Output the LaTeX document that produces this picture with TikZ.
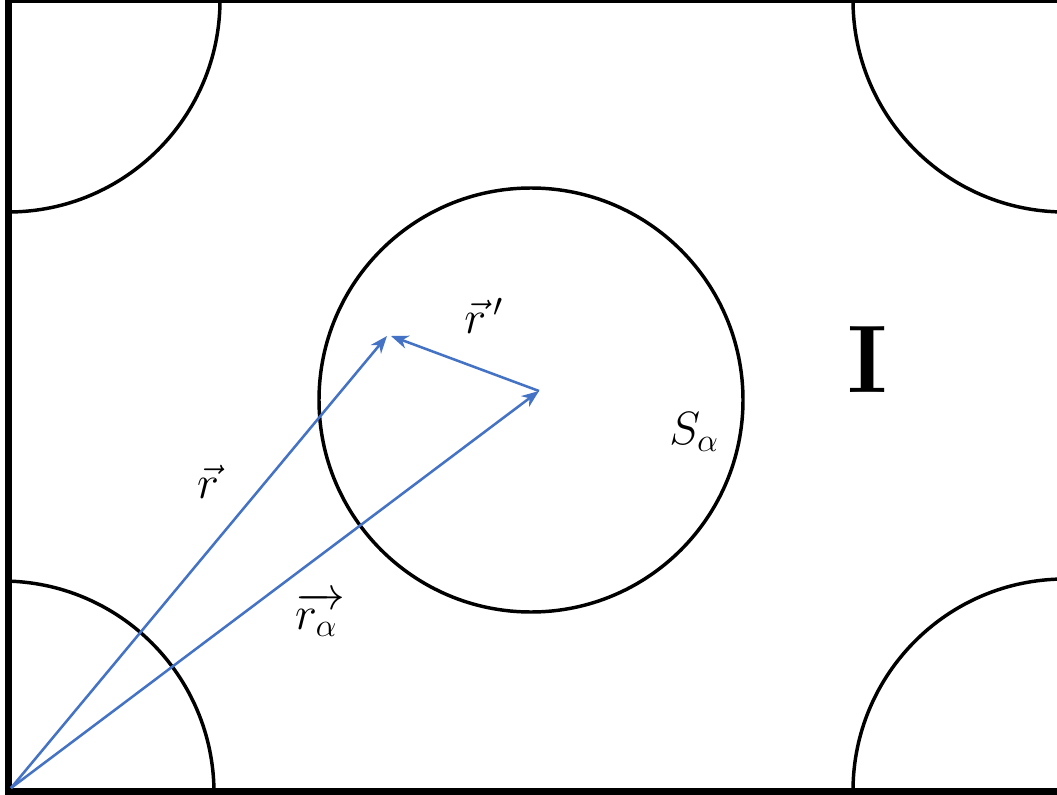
\documentclass[tikz,border=0pt]{standalone}
\usepackage{fix-cm}
\usepackage{amsmath}
\usetikzlibrary{arrows.meta}
\definecolor{vecblue}{RGB}{68,114,196}
\begin{document}
\begin{tikzpicture}[x=0.75pt,y=-0.75pt,
  frameline/.style={line width=5.25pt,draw=black},
  cellline/.style={line width=2.6pt,draw=black},
  vecline/.style={line width=1.9pt,draw=vecblue,-{Stealth[length=13pt,width=10pt,inset=4pt]}},
  lbl/.style={inner sep=0pt,font=\fontsize{35}{40}\selectfont},
  biglbl/.style={inner sep=0pt,font=\fontsize{72}{80}\selectfont\bfseries}]
\useasboundingbox (0,0) rectangle (1057,795);
\fill[white] (0,0) rectangle (1057,795);
\begin{scope}
\clip (8,0) rectangle (1057,791);
% corner cells
\draw[cellline] (8,0) circle[radius=212];
\draw[cellline] (1065,0) circle[radius=212];
\draw[cellline] (2,793) circle[radius=212];
\draw[cellline] (1065,791) circle[radius=212];
% central cell
\draw[cellline] (531,400) circle[radius=212];
\end{scope}
\begin{scope}
\clip (0,0) rectangle (1057,795);
% frame
\draw[frameline] (8,0) rectangle (1085,791);
\end{scope}
% vectors
\coordinate (O) at (11,788);
\coordinate (P) at (387,336);
\coordinate (Pb) at (391,336);
\coordinate (C) at (539,391);
\draw[vecline] (O) -- (P);
\draw[vecline] (O) -- (C);
\draw[vecline] (C) -- (Pb);
% labels
\node[lbl] (lr) at (208,482) {$\vec{r}$};
\node[lbl] (lrp) at (484,316) {$\vec{r}\,'$};
\node[lbl] (lra) at (320,614) {$\overrightarrow{r_{\alpha}\,}$};
\node[lbl] (lsa) at (694,432) {$S_\alpha$};
\node[biglbl] (lI) at (868,360) {I};
\end{tikzpicture}
\end{document}
